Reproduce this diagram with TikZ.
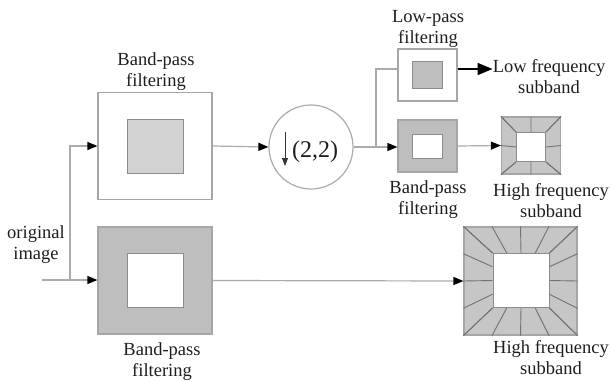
\documentclass[tikz,border=0pt]{standalone}
\usepackage{fontspec}
\setmainfont{Liberation Serif}
\usetikzlibrary{arrows.meta,positioning,calc}
\definecolor{wire}{HTML}{ABABAB}
\definecolor{frame}{HTML}{A6A6A6}
\definecolor{light}{HTML}{D2D2D2}
\definecolor{mid}{HTML}{BEBEBE}
\definecolor{hfg}{HTML}{C6C6C6}
\definecolor{txt}{HTML}{1E1E1E}

\begin{document}
\begin{tikzpicture}[x=1pt,y=-1pt,inner sep=0pt]
  \useasboundingbox (0,0) rectangle (611,381);
  \tikzstyle{b}=[draw=frame,line width=1.2pt,minimum width=114pt,minimum height=107pt]
  \tikzstyle{bi}=[draw=black!45,line width=1pt,minimum width=56pt,minimum height=54pt]
  \tikzstyle{s}=[draw=frame,line width=1.2pt,minimum width=59pt,minimum height=52pt]
  \tikzstyle{si}=[draw=black!45,line width=1pt]
  \tikzstyle{spoke}=[draw=black!55,line width=0.9pt]
  \tikzstyle{t}=[align=center,text=txt,font=\fontsize{18.5}{21}\selectfont]
  % filters and subbands
  \node[b,fill=white](bp1)at(155,146){};
  \node[bi,fill=light](ibp1)at(bp1){};
  \node[b,fill=mid](bp2)at(155,280.5){};
  \node[bi,fill=white](ibp2)at(bp2){};
  \node[circle,draw=wire,line width=1.2pt,minimum size=84pt](ds)at(311,147){};
  \node[s,fill=white](lp)at(427.5,75){};
  \node[si,fill=mid,minimum width=30pt,minimum height=27pt](ilp)at(lp){};
  \node[s,fill=mid](bp3)at(427.5,146){};
  \node[si,fill=white,minimum width=30pt,minimum height=24pt](ibp3)at(bp3){};
  \node[s,fill=hfg,minimum height=57pt](hf1)at(531,145.5){};
  \node[si,fill=white,minimum width=29pt,minimum height=29pt](ihf1)at(531,147){};
  \node[b,fill=hfg,minimum width=113pt,minimum height=108pt](hf2)at(520.5,281){};
  \node[bi,fill=white](ihf2)at(521,280.5){};
  \foreach\h/\n in{hf1/2,hf2/4}{
    \foreach\s/\e in{north west/north east,north east/south east,south east/south west,south west/north west}{
      \foreach\i in{0,...,\n}{\draw[spoke]($(\h.\s)!\i/\n!(\h.\e)$)--($(i\h.\s)!\i/\n!(i\h.\e)$);}}}
  % labels
  \node[t](lbp1)at(156,72){Band-pass\\filtering};
  \node[t](lorig)at(36,245){original\\image};
  \node[t](lbp2)at(162,362){Band-pass\\filtering};
  \node[t](llp)at(428,29){Low-pass\\filtering};
  \node[t](lf)at(549,77){Low frequency\\subband};
  \node[t](lbp3)at(428,200){Band-pass\\filtering};
  \node[t](lhf1)at(551,201){High frequency\\subband};
  \node[t](lhf2)at(551,358){High frequency\\subband};
  \node[t,font=\fontsize{24}{28}\selectfont](r22)at(315,152){(2,2)};
  \draw[-{Triangle[length=8pt,width=6pt]},draw=black!80,line width=0.9pt]([shift={(-26,-15)}]ds.center)--([shift={(-26,19)}]ds.center);
  % connectors
  \tikzstyle{w}=[draw=wire,line width=1.2pt]
  \tikzstyle{e}=[w,-{Triangle[length=10pt,width=8pt,black]}]
  \coordinate(in)at(42,280);
  \coordinate(j1)at(70,280);
  \coordinate(j2)at(376,147);
  \coordinate(lpo)at([yshift=6pt]lp.east);
  \draw[e](in)--(in-|bp2.west);
  \draw[e](j1)|-(bp1.west);
  \draw[e](bp1.east)--(ds.west);
  \draw[w](ds.east)--(j2);
  \draw[w](j2)|-([yshift=6pt]lp.west);
  \draw[e](j2)--(j2-|bp3.west);
  \draw[e](bp3.east)--(hf1.west);
  \draw[e](bp2.east)--(hf2.west);
  \draw[-{Triangle[length=15pt,width=12pt]},draw=black,line width=1.6pt](lpo)--(lpo-|lf.west);
\end{tikzpicture}
\end{document}
